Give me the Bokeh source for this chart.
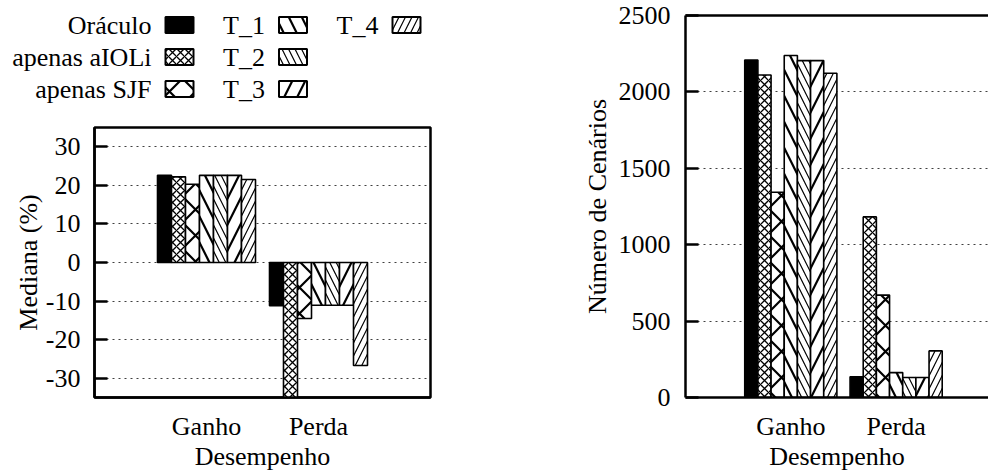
from bokeh.plotting import figure
from bokeh.layouts import row, column
from bokeh.models import (Range1d, FixedTicker, LinearAxis, ColumnDataSource)
from bokeh.core.properties import value
from bokeh.embed import file_html
from bokeh.resources import INLINE

# ---------------- data ----------------
groups = ["Ganho", "Perda"]
series = ["Oráculo", "apenas aIOLi", "apenas SJF", "T_1", "T_2", "T_3", "T_4"]
mediana_ganho = [22.6, 22.2, 20.3, 22.6, 22.6, 22.6, 21.5]
mediana_perda = [-11.2, -40.0, -14.5, -11.1, -11.1, -11.1, -26.7]
cenarios_ganho = [2209, 2111, 1343, 2238, 2205, 2205, 2122]
cenarios_perda = [135, 1182, 670, 163, 131, 131, 305]
mediana_ticks = [-30, -20, -10, 0, 10, 20, 30]
cenarios_ticks = [0, 500, 1000, 1500, 2000, 2500]

# ---------------- styles ----------------
FONT = "Liberation Serif"
FS = "26px"
BAR_W = 0.125
styles = [
    dict(fill_color="black", hatch_pattern=None, hatch_scale=12, hatch_weight=1),
    dict(fill_color="white", hatch_pattern="x", hatch_scale=8, hatch_weight=1.3),
    dict(fill_color="white", hatch_pattern="x", hatch_scale=26, hatch_weight=2.2),
    dict(fill_color="white", hatch_pattern="\\", hatch_scale=26, hatch_weight=2.2),
    dict(fill_color="white", hatch_pattern="\\", hatch_scale=13, hatch_weight=1.2),
    dict(fill_color="white", hatch_pattern="/", hatch_scale=26, hatch_weight=2.2),
    dict(fill_color="white", hatch_pattern="/", hatch_scale=13, hatch_weight=1.2),
]


def glyph_kw(st, lw):
    kw = dict(fill_color=st["fill_color"], line_color="black", line_width=lw)
    if st["hatch_pattern"]:
        kw.update(hatch_pattern=st["hatch_pattern"], hatch_color="black",
                  hatch_scale=st["hatch_scale"], hatch_weight=st["hatch_weight"])
    return kw


def add_bars(p, ganho, perda):
    n = len(series)
    for k in range(n):
        off = (k - (n - 1) / 2) * BAR_W
        src = ColumnDataSource(dict(x=[g + off for g in range(len(groups))],
                                    top=[ganho[k], perda[k]]))
        p.vbar(x="x", top="top", bottom=0, width=BAR_W, source=src,
               **glyph_kw(styles[k], 1.6))


def style(p, ticks):
    p.background_fill_color = "white"
    p.border_fill_color = "white"
    p.xgrid.visible = False
    p.ygrid.grid_line_color = "black"
    p.ygrid.grid_line_alpha = 0.75
    p.ygrid.grid_line_dash = "2 4"
    p.ygrid.grid_line_width = 1
    for ax in p.axis:
        ax.axis_line_width = 2.5
        ax.axis_line_color = "black"
        ax.major_label_text_font = FONT
        ax.major_label_text_font_size = FS
        ax.major_label_text_color = "black"
        ax.axis_label_text_font = FONT
        ax.axis_label_text_font_size = FS
        ax.axis_label_text_font_style = "normal"
        ax.axis_label_text_color = "black"
        ax.minor_tick_line_color = None
    p.yaxis.ticker = FixedTicker(ticks=ticks)
    p.yaxis.major_label_overrides = {t: str(t) for t in ticks}
    p.yaxis.major_tick_in = 13
    p.yaxis.major_tick_out = 0
    p.yaxis.major_tick_line_width = 2.5
    p.xaxis.major_tick_line_color = None
    p.xaxis.major_tick_in = 0
    p.xaxis.major_tick_out = 0
    p.xaxis.ticker = FixedTicker(ticks=list(range(len(groups))))
    p.xaxis.major_label_overrides = {i: g for i, g in enumerate(groups)}
    p.xaxis.major_label_standoff = 14
    p.xaxis.axis_label = "Desempenho"
    p.xaxis.axis_label_standoff = -2


# ---------------- legend (label, then swatch; 3 rows per column) ----------------
LEG_H = 118
FRAME_L = 94
SW0, COL_STEP, ROW0, ROW_STEP, GAP = 165, 113.5, 24.5, 32, 14
leg = figure(width=560, height=LEG_H, x_range=Range1d(FRAME_L, 430), y_range=Range1d(LEG_H, 0),
             output_backend="svg", toolbar_location=None,
             min_border_left=FRAME_L, min_border_right=130, min_border_top=0, min_border_bottom=0)
leg.xaxis.visible = False
leg.grid.visible = False
leg.outline_line_color = None
leg.background_fill_color = "white"
leg.border_fill_color = "white"
first_col = {}
for k, name in enumerate(series):
    col, r = k // 3, k % 3
    sx = SW0 + col * COL_STEP
    cy = ROW0 + r * ROW_STEP
    leg.rect(x=[sx + 14], y=[cy], width=28, height=16, **glyph_kw(styles[k], 2))
    if col == 0:
        first_col[cy] = name  # drawn as axis labels (left of the frame edge)
    else:
        leg.text(x=[sx - GAP], y=[cy], text=[name], text_align="right",
                 text_baseline="middle", text_font=value(FONT), text_font_size=FS,
                 text_color="black")
lax = leg.yaxis[0]
lax.ticker = FixedTicker(ticks=list(first_col.keys()))
lax.major_label_overrides = first_col
lax.axis_line_color = None
lax.major_tick_line_color = None
lax.minor_tick_line_color = None
lax.major_tick_in = 0
lax.major_tick_out = 0
lax.major_label_text_font = FONT
lax.major_label_text_font_size = FS
lax.major_label_text_color = "black"
lax.major_label_standoff = -int(SW0 - GAP - FRAME_L)

# ---------------- left: mediana ----------------
p1 = figure(width=560, height=474 - LEG_H, x_range=Range1d(-1, 2), y_range=Range1d(-35, 35),
            output_backend="svg", toolbar_location=None,
            min_border_left=FRAME_L, min_border_right=130, min_border_top=9, min_border_bottom=77)
add_bars(p1, mediana_ganho, mediana_perda)
style(p1, mediana_ticks)
p1.yaxis.axis_label = "Mediana (%)"
p1.yaxis.axis_label_standoff = 0
p1.yaxis.major_label_standoff = 14
p1.outline_line_color = "black"
p1.outline_line_width = 2.5
p1.outline_line_alpha = 1

# ---------------- right: cenarios ----------------
p2 = figure(width=428, height=474, x_range=Range1d(-1, 1.877), y_range=Range1d(0, 2500),
            output_backend="svg", toolbar_location=None,
            min_border_left=125, min_border_right=0, min_border_top=15, min_border_bottom=77)
add_bars(p2, cenarios_ganho, cenarios_perda)
style(p2, cenarios_ticks)
p2.yaxis.axis_label = "Número de Cenários"
p2.yaxis.axis_label_standoff = 4
p2.yaxis.major_label_standoff = 15
p2.outline_line_color = None
top_ax = LinearAxis(ticker=FixedTicker(ticks=[]), major_label_text_font_size="0px",
                    major_tick_in=0, major_tick_out=0, minor_tick_in=0, minor_tick_out=0,
                    axis_line_width=2.5, axis_line_color="black")
p2.add_layout(top_ax, "above")

layout = row(column(leg, p1, spacing=0), p2, spacing=0)

open("out.html", "w").write(file_html(layout, INLINE))
